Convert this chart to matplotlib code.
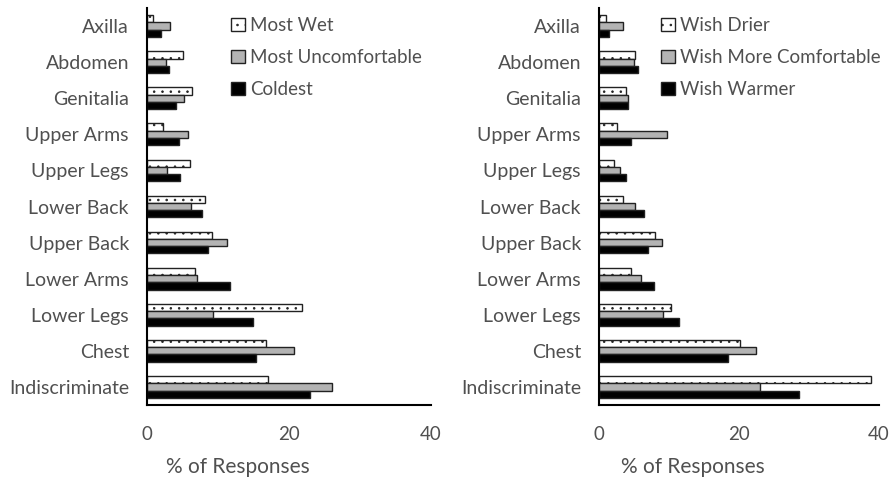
import numpy as np
import matplotlib.pyplot as plt

plt.rcParams['font.family'] = ['Lato', 'DejaVu Sans']
plt.rcParams['hatch.color'] = '#444444'
plt.rcParams['hatch.linewidth'] = 0.6

regions = ['Axilla', 'Abdomen', 'Genitalia', 'Upper Arms', 'Upper Legs',
           'Lower Back', 'Upper Back', 'Lower Arms', 'Lower Legs', 'Chest',
           'Indiscriminate']

# left panel
most_wet = [0.8, 5.1, 6.4, 2.3, 6.0, 8.2, 9.2, 6.8, 21.8, 16.7, 17.0]
most_uncomf = [3.2, 2.7, 5.2, 5.8, 2.8, 6.2, 11.3, 7.1, 9.3, 20.7, 26.0]
coldest = [2.0, 3.1, 4.1, 4.5, 4.6, 7.8, 8.6, 11.7, 14.9, 15.4, 22.9]

# right panel
wish_drier = [1.0, 5.2, 3.8, 2.6, 2.1, 3.4, 8.0, 4.6, 10.3, 20.2, 38.8]
wish_comf = [3.4, 5.0, 4.2, 9.7, 3.0, 5.1, 9.0, 6.0, 9.2, 22.4, 23.0]
wish_warmer = [1.4, 5.6, 4.1, 4.5, 3.8, 6.4, 7.0, 7.8, 11.4, 18.4, 28.6]

left = [('Most Wet', most_wet), ('Most Uncomfortable', most_uncomf),
        ('Coldest', coldest)]
right = [('Wish Drier', wish_drier), ('Wish More Comfortable', wish_comf),
         ('Wish Warmer', wish_warmer)]

styles = [dict(color='white', hatch='..'),
          dict(color='#b3b3b3'),
          dict(color='black')]
txt = '#505050'

fig = plt.figure(figsize=(8.9, 4.79), dpi=100)
ax1 = fig.add_axes([147 / 890, 1 - 405 / 479, 284 / 890, 397 / 479])
ax2 = fig.add_axes([599 / 890, 1 - 405 / 479, 280 / 890, 397 / 479])

y = np.arange(len(regions))[::-1]
h = 0.2

for ax, series, lx, xl in [(ax1, left, 0.235, 0.32), (ax2, right, 0.16, 0.335)]:
    for i, (name, vals) in enumerate(series):
        ax.barh(y + h * (1 - i), vals, height=h, facecolor=styles[i]['color'],
                hatch=styles[i].get('hatch'), edgecolor='#222222',
                linewidth=1.0, label=name)
    ax.set_xlim(0, 40)
    ax.set_ylim(-0.5, 10.5)
    ax.set_yticks(y)
    ax.set_yticklabels(regions, fontsize=14, color=txt)
    ax.set_xticks([0, 20, 40])
    ax.tick_params(axis='x', labelsize=13.5, labelcolor=txt, length=0, pad=15)
    ax.tick_params(axis='y', length=0, pad=13)
    for s in ['top', 'right']:
        ax.spines[s].set_visible(False)
    ax.spines['left'].set_linewidth(1.5)
    ax.spines['bottom'].set_linewidth(1.5)
    ax.set_xlabel('% of Responses', fontsize=15, color=txt, va='center')
    ax.xaxis.set_label_coords(xl, -0.157)
    leg = ax.legend(loc='upper left', bbox_to_anchor=(lx, 1.02), frameon=False,
                    fontsize=13.5, handlelength=0.75, handleheight=0.75,
                    handletextpad=0.3, labelspacing=0.8, labelcolor=txt)

fig.savefig('out.png', dpi=100)
